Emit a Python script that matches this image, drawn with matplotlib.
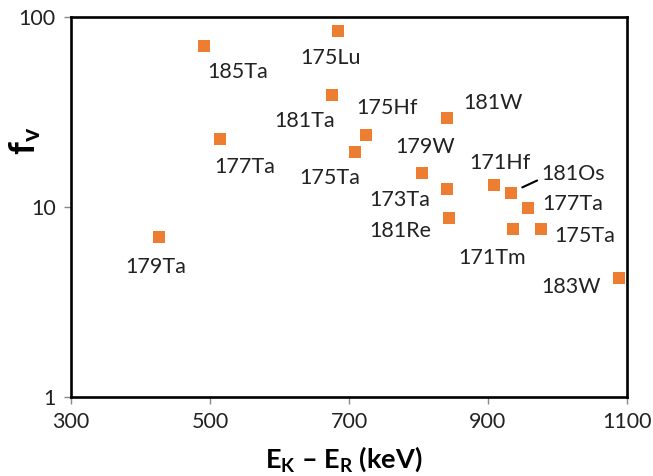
import matplotlib
matplotlib.use("Agg")
import matplotlib.pyplot as plt

plt.rcParams['font.family'] = ['Lato', 'DejaVu Sans']
plt.rcParams['mathtext.fontset'] = 'custom'
plt.rcParams['mathtext.rm'] = 'Lato'
plt.rcParams['mathtext.it'] = 'Lato:italic'
plt.rcParams['mathtext.bf'] = 'Lato:bold'

# data
nuclides = ['185Ta', '177Ta', '179Ta', '175Lu', '181Ta', '175Hf', '175Ta', '181W',
            '179W', '173Ta', '181Re', '171Hf', '181Os', '177Ta', '171Tm', '175Ta', '183W']
e_diff = [491, 514, 427, 684, 675, 725, 709, 841,
          805, 841, 844, 908, 933, 958, 936, 976, 1088]
f_v = [70.4, 22.8, 6.95, 84.7, 39.0, 23.8, 19.5, 29.5,
       15.1, 12.4, 8.75, 13.1, 11.9, 9.9, 7.69, 7.64, 4.25]

# label offsets from the marker, in pixels (x right, y up)
label_dx = [34, 25, -4, -7, -27, 21, -26, 46, 3, -47, -49, 6, 62, 44, -21, 44, -48]
label_dy = [-26, -28, -30, -27, -26, 27, -26, 15, 26, -11, -13, 22, 19, 4, -29, -7, -9]

orange = '#ED7D31'

fig = plt.figure(figsize=(6.53, 4.76), dpi=100)
ax = fig.add_axes([71/653, 1-397/476, (627-71)/653, (397-17)/476])

ax.scatter(e_diff, f_v, marker='s', s=80, color=orange, linewidths=0, zorder=3)

for name, x, y, dx, dy in zip(nuclides, e_diff, f_v, label_dx, label_dy):
    if name == '181Os':
        ax.annotate(name, (x, y), xytext=(dx, dy), textcoords='offset pixels',
                    ha='center', va='center', fontsize=15.5, color='#222222',
                    arrowprops=dict(arrowstyle='-', color='black', lw=1.5,
                                    relpos=(0.0, 0.25), shrinkA=1, shrinkB=9))
    else:
        ax.annotate(name, (x, y), xytext=(dx, dy), textcoords='offset pixels',
                    ha='center', va='center', fontsize=15.5, color='#222222')

ax.set_yscale('log')
ax.set_xlim(300, 1100)
ax.set_ylim(1, 100)
ax.set_xticks([300, 500, 700, 900, 1100])
ax.set_yticks([1, 10, 100])
ax.set_yticklabels(['1', '10', '100'])
ax.minorticks_off()
ax.tick_params(axis='both', labelsize=15.5, length=5, width=1, color='#888888',
               labelcolor='#222222', pad=6)

for sp in ax.spines.values():
    sp.set_linewidth(1.9)
    sp.set_color('black')

ax.set_xlabel(r'$\mathbf{E_K}$ – $\mathbf{E_R}$ (keV)', fontsize=19.5, fontweight='bold')
ax.set_ylabel(r'$\mathbf{f_v}$', fontsize=26, fontweight='bold')
ax.xaxis.set_label_coords(0.49, -0.125)
ax.yaxis.set_label_coords(-0.05, 0.674)

fig.savefig('out.png', dpi=100)
